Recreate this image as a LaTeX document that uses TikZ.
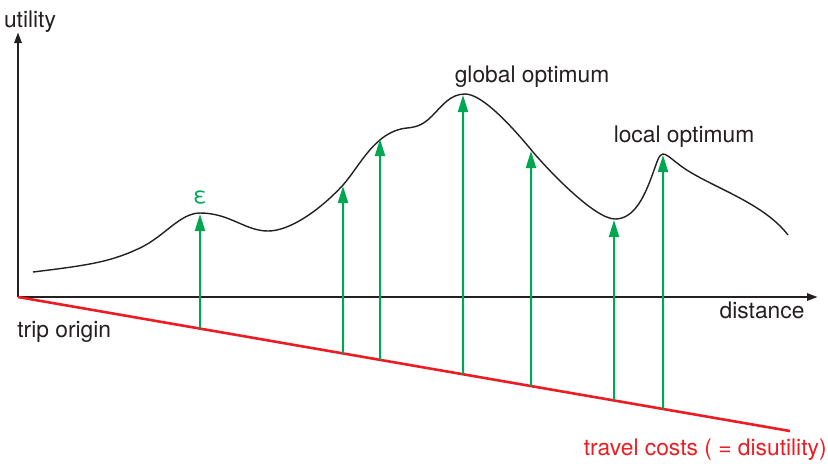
\documentclass[tikz,border=0pt]{standalone}
\usepackage{fontspec}
\setmainfont{TeX Gyre Heros}
\usetikzlibrary{arrows.meta,calc}
\definecolor{inkgray}{rgb}{0.14, 0.12, 0.13}
\definecolor{costred}{rgb}{0.93, 0.11, 0.14}
\definecolor{gaingreen}{rgb}{0.0, 0.65, 0.32}
\tikzset{
  axis/.style={
    -{Triangle[length=5.5pt,width=3.5pt]},
    line width=1.3pt,
    inkgray
  },
  cost/.style={
    line width=1.3pt,
    costred
  },
  utility/.style={
    line width=0.7pt,
    inkgray
  },
  gain/.style={
    -{Triangle[length=8.5pt,width=5pt]},
    line width=1pt,
    gaingreen
  },
  tag/.style={
    inner sep=0pt,
    anchor=base,
    font=\fontsize{11.4}{13}\selectfont,
    text=inkgray
  }
}

\begin{document}
\begin{tikzpicture}[x=0.5pt,y=-0.5pt]
\useasboundingbox (0,0) rectangle (828,463);
\coordinate (O) at (18,297);
\coordinate (ytip) at (18,32);
\coordinate (xtip) at (818,297);
\coordinate (R) at (790,431);
% axes and cost line
\draw[axis] (O) -- (ytip);
\draw[axis] (O) -- (xtip);
\draw[cost] (O) -- (R);
% utility curve
\draw[utility] (33,272) .. controls (90,265) and (110,262) .. (140,248)
  .. controls (165,236) and (180,213) .. (200,213)
  .. controls (230,213) and (245,231) .. (268,231)
  .. controls (290,231) and (320,210) .. (343,185)
  .. controls (360,166) and (375,131) .. (407,128)
  .. controls (418,127) and (424,124) .. (432,116)
  .. controls (442,106) and (450,94) .. (465,94)
  .. controls (480,94) and (505,118) .. (533,152)
  .. controls (550,172) and (595,219) .. (615,219)
  .. controls (635,219) and (645,195) .. (653,173)
  .. controls (657,162) and (659,154) .. (663,154)
  .. controls (668,154) and (675,163) .. (690,172)
  .. controls (720,190) and (765,205) .. (788,235);
% arrows from cost line up to the curve
\foreach \x/\y [evaluate=\x as \t using (\x-18)/772] in
    {200/214, 343/186, 380/139, 463/95, 531/151, 614/220, 663/155} {
  \coordinate (b\x) at ($(O)!\t!(R)$);
  \coordinate (t\x) at (\x,\y);
  \draw[gain] (b\x) -- (t\x);
}
% labels
\node[tag] (ylab) at (30,27) {utility};
\node[tag] (xlab) at (762,318) {distance};
\node[tag, anchor=base west] (orig) at (17,337) {trip origin};
\node[tag, anchor=base east, text=costred] (costlab) at (827,455) {travel costs ( = disutility)};
\node[tag] (glob) at (532,82) {global optimum};
\node[tag] (loc) at (684,142) {local optimum};
\node[tag, text=gaingreen] (eps) at (200,203) {ε};
\end{tikzpicture}
\end{document}
